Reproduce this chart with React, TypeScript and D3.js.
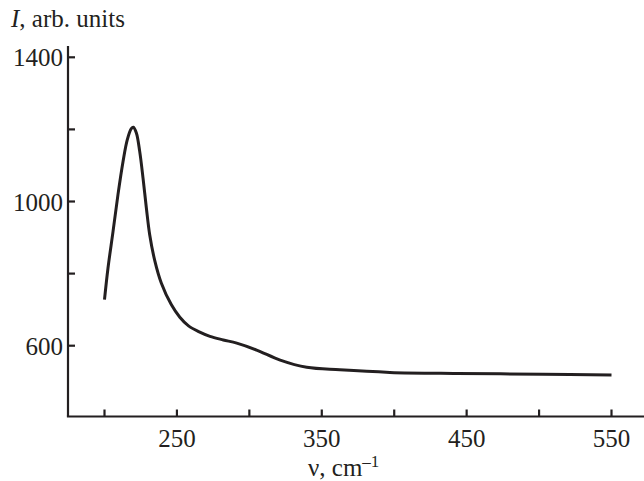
import React from "react";
import * as d3 from "d3";

// Raman-like spectrum: wavenumber (cm^-1) vs intensity (arb. units)
const wavenumbers = [200, 202.4, 205.9, 209.3, 212.8, 215.7, 218.5, 219.9, 222, 224.3, 226.6, 228.9, 231.2, 234.7, 239.2, 246.1, 252, 258, 265, 272.8, 282, 291.3, 305, 321.3, 339.6, 362.5, 397, 443, 502.7, 550];
const intensities = [728, 815, 917, 1019, 1111, 1171, 1202, 1206, 1190, 1139, 1065, 982, 908, 836, 774, 714, 679, 655, 639, 626, 616, 607, 588, 560, 540, 533, 526, 523, 521, 519];

const xTicks = [200, 250, 300, 350, 400, 450, 500, 550];
const xTickLabels = [250, 350, 450, 550];
const yTicks = [600, 800, 1000, 1200, 1400];
const yTickLabels = [600, 1000, 1400];

const W = 644;
const H = 481;
const ink = "#231f20";
const font = "'Liberation Serif', 'Times New Roman', serif";

export default function App() {
  const x = d3.scaleLinear().domain([200, 550]).range([104.5, 611.5]);
  const y = d3.scaleLinear().domain([600, 1400]).range([345.7, 57.3]);

  const axisX = 68;
  const axisY = 416.5;
  const axisTop = 46;

  const points = wavenumbers.map((v, i) => [v, intensities[i]] as [number, number]);
  const line = d3
    .line<[number, number]>()
    .x((d) => x(d[0]))
    .y((d) => y(d[1]))
    .curve(d3.curveCatmullRom.alpha(0.5));

  return (
    <div style={{ position: "absolute", left: 0, top: 0 }}>
      <svg width={W} height={H} style={{ display: "block", background: "#fff" }}>
        {/* axes */}
        <line x1={axisX} y1={axisTop} x2={axisX} y2={axisY} stroke={ink} strokeWidth={2.2} />
        <line x1={axisX - 1.1} y1={axisY} x2={W} y2={axisY} stroke={ink} strokeWidth={2.2} />

        {/* y ticks (inward) */}
        {yTicks.map((t) => (
          <line key={"yt" + t} x1={axisX} x2={axisX + 7} y1={y(t)} y2={y(t)} stroke={ink} strokeWidth={2.2} />
        ))}
        {yTickLabels.map((t) => (
          <text
            key={"yl" + t}
            x={axisX - 5}
            y={y(t) + 9}
            textAnchor="end"
            fontFamily={font}
            fontSize={25}
            fill={ink}
          >
            {t}
          </text>
        ))}

        {/* x ticks (inward) */}
        {xTicks.map((t) => (
          <line key={"xt" + t} x1={x(t)} x2={x(t)} y1={axisY} y2={axisY - 7} stroke={ink} strokeWidth={2.2} />
        ))}
        {xTickLabels.map((t) => (
          <text
            key={"xl" + t}
            x={x(t)}
            y={447}
            textAnchor="middle"
            fontFamily={font}
            fontSize={25}
            fill={ink}
          >
            {t}
          </text>
        ))}

        {/* axis titles */}
        <text x={11} y={27} fontFamily={font} fontSize={25} fill={ink}>
          <tspan fontStyle="italic">I</tspan>, arb. units
        </text>
        <text x={308} y={476} fontFamily={font} fontSize={25} fill={ink}>
          ν, cm
          <tspan fontSize={17} dy={-9}>–1</tspan>
        </text>

        {/* spectrum */}
        <path d={line(points) || ""} fill="none" stroke={ink} strokeWidth={3} strokeLinejoin="round" />
      </svg>
    </div>
  );
}
